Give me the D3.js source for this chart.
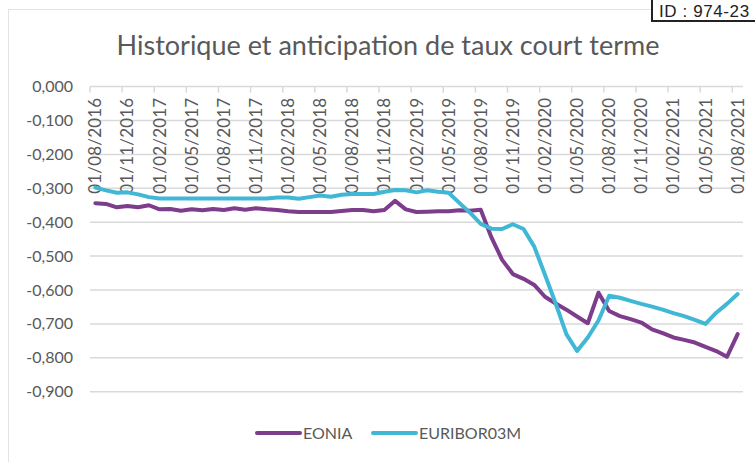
<!DOCTYPE html>
<html>
<head>
<meta charset="utf-8">
<script src="https://cdn.jsdelivr.net/npm/d3@7"></script>
<style>
    body { margin: 0; background: #fff; }
    text { font-family: Lato, "Open Sans", sans-serif; fill: #595959; }
</style>
</head>
<body>
<div id="graphSpace"></div>
<script>
// categories (one per month)
var categories = [
    "01/08/2016","01/09/2016","01/10/2016","01/11/2016","01/12/2016",
    "01/01/2017","01/02/2017","01/03/2017","01/04/2017","01/05/2017","01/06/2017","01/07/2017","01/08/2017","01/09/2017","01/10/2017","01/11/2017","01/12/2017",
    "01/01/2018","01/02/2018","01/03/2018","01/04/2018","01/05/2018","01/06/2018","01/07/2018","01/08/2018","01/09/2018","01/10/2018","01/11/2018","01/12/2018",
    "01/01/2019","01/02/2019","01/03/2019","01/04/2019","01/05/2019","01/06/2019","01/07/2019","01/08/2019","01/09/2019","01/10/2019","01/11/2019","01/12/2019",
    "01/01/2020","01/02/2020","01/03/2020","01/04/2020","01/05/2020","01/06/2020","01/07/2020","01/08/2020","01/09/2020","01/10/2020","01/11/2020","01/12/2020",
    "01/01/2021","01/02/2021","01/03/2021","01/04/2021","01/05/2021","01/06/2021","01/07/2021","01/08/2021"
];

var tickLabels = [
    "01/08/2016","01/11/2016","01/02/2017","01/05/2017","01/08/2017","01/11/2017","01/02/2018",
    "01/05/2018","01/08/2018","01/11/2018","01/02/2019","01/05/2019","01/08/2019","01/11/2019",
    "01/02/2020","01/05/2020","01/08/2020","01/11/2020","01/02/2021","01/05/2021","01/08/2021"
];

var yTicks = [0, -0.1, -0.2, -0.3, -0.4, -0.5, -0.6, -0.7, -0.8, -0.9];

var eonia = [
    -0.344,-0.346,-0.356,-0.352,-0.356,-0.350,-0.362,-0.361,-0.366,-0.362,
    -0.365,-0.361,-0.364,-0.359,-0.363,-0.359,-0.362,-0.364,-0.368,-0.370,
    -0.370,-0.370,-0.370,-0.367,-0.364,-0.364,-0.368,-0.364,-0.337,-0.362,
    -0.370,-0.369,-0.368,-0.368,-0.365,-0.366,-0.363,-0.445,-0.511,-0.553,
    -0.567,-0.585,-0.620,-0.640,-0.658,-0.678,-0.698,-0.608,-0.662,-0.677,
    -0.686,-0.696,-0.716,-0.727,-0.740,-0.747,-0.755,-0.768,-0.780,-0.797,
    -0.730
];

var euribor = [
    -0.298,-0.306,-0.313,-0.312,-0.318,-0.326,-0.330,-0.330,-0.330,-0.330,
    -0.330,-0.330,-0.330,-0.330,-0.330,-0.330,-0.330,-0.327,-0.327,-0.331,
    -0.326,-0.321,-0.325,-0.319,-0.317,-0.317,-0.317,-0.310,-0.305,-0.306,
    -0.312,-0.306,-0.310,-0.313,-0.343,-0.372,-0.405,-0.419,-0.420,-0.406,
    -0.420,-0.472,-0.555,-0.640,-0.730,-0.780,-0.740,-0.690,-0.617,-0.623,
    -0.632,-0.641,-0.649,-0.658,-0.668,-0.677,-0.688,-0.700,-0.667,-0.641,
    -0.612
];

var series = [
    {name: "EONIA", values: eonia, color: "#7d3c8c"},
    {name: "EURIBOR03M", values: euribor, color: "#40b8d5"}
];

var width = 755, height = 462;

var svg = d3.select("#graphSpace").append("svg")
    .attr("width", width)
    .attr("height", height);

// cadre du graphique
svg.append("rect")
    .attr("x", 8.5).attr("y", 9.5)
    .attr("width", 770).attr("height", 470)
    .attr("fill", "#fff")
    .attr("stroke", "#e4e4e4");

var x = d3.scaleBand().domain(categories).range([90, 743]);
var y = d3.scaleLinear().domain([-0.9, 0]).range([391.7, 86.6]);

function cx(d) { return x(d) + x.bandwidth() / 2; }
var fmt = function (v) { return d3.format(".3f")(v).replace(".", ",").replace("−", "-"); };

// gridlines
svg.append("g").selectAll("line")
    .data(yTicks.filter(function (v) { return v !== 0; }))
    .enter().append("line")
    .attr("x1", 90).attr("x2", 743)
    .attr("y1", function (d) { return y(d); })
    .attr("y2", function (d) { return y(d); })
    .attr("stroke", "#d9d9d9")
    .attr("stroke-width", 1.5);

// y labels
svg.append("g").selectAll("text")
    .data(yTicks)
    .enter().append("text")
    .attr("x", 73)
    .attr("y", function (d) { return y(d) + 5.5; })
    .attr("text-anchor", "end")
    .style("font-size", "16px")
    .text(fmt);

// axe des categories (en haut, a 0)
svg.append("line")
    .attr("x1", 90).attr("x2", 743)
    .attr("y1", y(0)).attr("y2", y(0))
    .attr("stroke", "#d9d9d9")
    .attr("stroke-width", 1.5);

var tickCats = categories.filter(function (c, i) { return i % 3 === 0; });
svg.append("g").selectAll("line")
    .data(tickCats)
    .enter().append("line")
    .attr("x1", function (d) { return x(d); })
    .attr("x2", function (d) { return x(d); })
    .attr("y1", y(0)).attr("y2", y(0) + 6)
    .attr("stroke", "#d9d9d9")
    .attr("stroke-width", 1.5);

svg.append("g").selectAll("text")
    .data(tickLabels)
    .enter().append("text")
    .attr("transform", function (d) { return "translate(" + (cx(d) + 6) + "," + (y(0) + 11) + ") rotate(-90)"; })
    .attr("text-anchor", "end")
    .style("font-size", "17px")
    .style("letter-spacing", "0.2px")
    .text(function (d) { return d; });

// lines
var line = d3.line()
    .x(function (d, i) { return cx(categories[i]); })
    .y(function (d) { return y(d); });

svg.append("g").selectAll("path")
    .data(series)
    .enter().append("path")
    .attr("d", function (s) { return line(s.values); })
    .attr("fill", "none")
    .attr("stroke", function (s) { return s.color; })
    .attr("stroke-width", 4)
    .attr("stroke-linejoin", "round")
    .attr("stroke-linecap", "round");

// title
svg.append("text")
    .attr("x", 388).attr("y", 55)
    .attr("text-anchor", "middle")
    .style("font-size", "27px")
    .text("Historique et anticipation de taux court terme");

// legend
var legendPos = [257, 373];
var lg = svg.append("g").selectAll("g")
    .data(series)
    .enter().append("g")
    .attr("transform", function (d, i) { return "translate(" + legendPos[i] + ",433)"; });
lg.append("line")
    .attr("x1", 0).attr("x2", 43)
    .attr("stroke", function (d) { return d.color; })
    .attr("stroke-width", 4)
    .attr("stroke-linecap", "round");
lg.append("text")
    .attr("x", 46).attr("y", 6)
    .style("font-size", "16px")
    .text(function (d) { return d.name; });

// ID box
svg.append("rect")
    .attr("x", 652).attr("y", -2)
    .attr("width", 110).attr("height", 23)
    .attr("fill", "#fff")
    .attr("stroke", "#222")
    .attr("stroke-width", 2);
svg.append("text")
    .attr("x", 659).attr("y", 17)
    .style("font-family", "'Liberation Sans', Arial, sans-serif")
    .style("font-size", "17px")
    .style("letter-spacing", "0.6px")
    .style("fill", "#222")
    .text("ID : 974-23");
</script>
</body>
</html>
